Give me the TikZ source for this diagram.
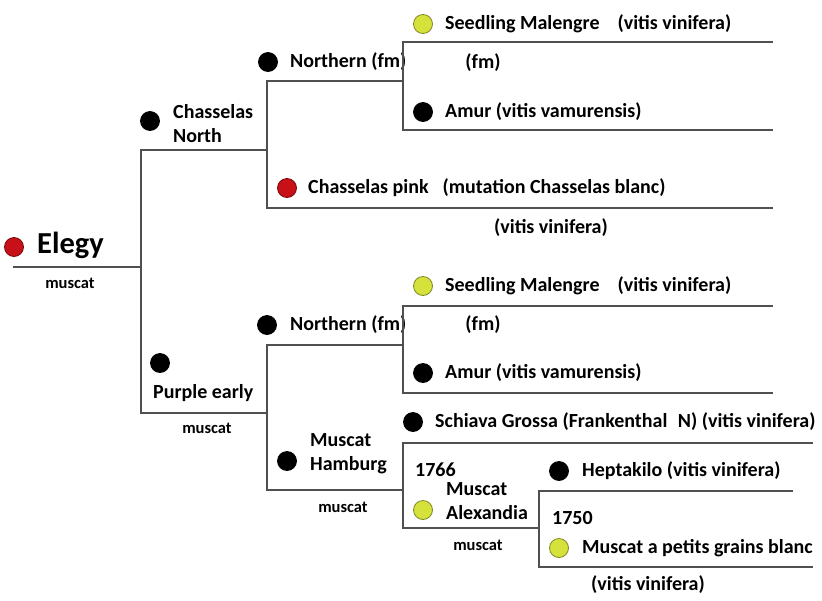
\documentclass[tikz,border=0pt]{standalone}
\usepackage{fontspec}
\setmainfont{Carlito}
\definecolor{grapered}{RGB}{200,16,24}
\definecolor{grapegreen}{RGB}{214,226,60}
\definecolor{branchgray}{RGB}{80,80,80}

\begin{document}
\begin{tikzpicture}[x=1pt, y=-1pt,
        branch/.style={branchgray, line width=1.3pt},
        dot/.style={circle, minimum size=19pt, inner sep=0pt, line width=0.8pt, fill=#1, draw=#1!60!black},
        lbl/.style={anchor=west, inner sep=0pt, align=left, font=\bfseries\fontsize{20}{24}\selectfont},
        small/.style={inner sep=0pt, font=\bfseries\fontsize{16.5}{18}\selectfont},
        paren/.style={inner sep=0pt, font=\bfseries\fontsize{20}{22}\selectfont}]
        \useasboundingbox (0,0) rectangle (822,600);

        % Elegy
        \node[dot=grapered] (elegy-dot) at (14,247) {};
        \node[lbl, font=\bfseries\fontsize{30.5}{32}\selectfont] (elegy) at (37,245) {Elegy};
        \node[small] (elegy-note) at (70,283) {muscat};
        \coordinate (elegy-end) at (13,267);
        \coordinate (elegy-fork) at (141,267);
        \draw[branch] (elegy-end) -- (elegy-fork);

        % Chasselas North
        \node[dot=black] (cn-dot) at (150,121) {};
        \node[lbl] (cn) at (173,124) {Chasselas\\North};
        \coordinate (cn-fork) at (267,150);

        % Purple early
        \node[dot=black] (pe-dot) at (160,363) {};
        \node[lbl] (pe) at (153,393) {Purple early};
        \node[small] (pe-note) at (207,428) {muscat};
        \coordinate (pe-fork) at (267,413);
        \draw[branch] (cn-fork) -| (elegy-fork) |- (pe-fork);

        % Northern (top)
        \node[dot=black] (n1-dot) at (268,62) {};
        \node[lbl] (n1) at (290,62) {Northern (fm)};
        \coordinate (n1-fork) at (403,81);

        % Chasselas pink
        \node[dot=grapered] (cp-dot) at (287,188) {};
        \node[lbl] (cp) at (308,188) {Chasselas pink\hspace{0.7em}(mutation Chasselas blanc)};
        \node[paren] (cp-note) at (551,228) {(vitis vinifera)};
        \coordinate (cp-end) at (773,208);
        \draw[branch] (n1-fork) -| (cn-fork) |- (cp-end);

        % Seedling Malengre / Amur (top)
        \node[dot=grapegreen] (sm1-dot) at (423,24) {};
        \node[lbl] (sm1) at (445,24) {Seedling Malengre\hspace{0.9em}(vitis vinifera)};
        \node[paren] (n1-note) at (483,63) {(fm)};
        \node[dot=black] (am1-dot) at (423,112) {};
        \node[lbl] (am1) at (445,112) {Amur (vitis vamurensis)};
        \coordinate (sm1-end) at (773,42);
        \coordinate (am1-end) at (773,130);
        \draw[branch] (sm1-end) -| (n1-fork) |- (am1-end);

        % Northern (bottom)
        \node[dot=black] (n2-dot) at (267,325) {};
        \node[lbl] (n2) at (290,325) {Northern (fm)};
        \coordinate (n2-fork) at (403,345);

        % Muscat Hamburg
        \node[dot=black] (mh-dot) at (287,461) {};
        \node[lbl] (mh) at (310,454) {Muscat\\Hamburg};
        \node[small] (mh-note) at (343,507) {muscat};
        \coordinate (mh-fork) at (403,490);
        \draw[branch] (n2-fork) -| (pe-fork) |- (mh-fork);

        % Seedling Malengre / Amur (bottom)
        \node[dot=grapegreen] (sm2-dot) at (423,286) {};
        \node[lbl] (sm2) at (445,286) {Seedling Malengre\hspace{0.9em}(vitis vinifera)};
        \node[paren] (n2-note) at (483,325) {(fm)};
        \node[dot=black] (am2-dot) at (423,373) {};
        \node[lbl] (am2) at (445,373) {Amur (vitis vamurensis)};
        \coordinate (sm2-end) at (773,306);
        \coordinate (am2-end) at (773,393);
        \draw[branch] (sm2-end) -| (n2-fork) |- (am2-end);

        % Schiava Grossa / Muscat Alexandria
        \node[dot=black] (sg-dot) at (413,422) {};
        \node[lbl] (sg) at (435,422) {Schiava Grossa (Frankenthal\hspace{0.3em} N) (vitis vinifera)};
        \node[paren, anchor=west] (ma-year) at (415,470) {1766};
        \node[dot=grapegreen] (ma-dot) at (423,510) {};
        \node[lbl] (ma) at (446,501) {Muscat\\Alexandia};
        \node[small] (ma-note) at (478,545) {muscat};
        \coordinate (sg-end) at (813,443);
        \coordinate (ma-fork) at (539,528);
        \draw[branch] (sg-end) -| (mh-fork) |- (ma-fork);

        % Heptakilo / Muscat a petits grains blanc
        \node[dot=black] (hk-dot) at (559,471) {};
        \node[lbl] (hk) at (582,471) {Heptakilo (vitis vinifera)};
        \node[paren, anchor=west] (mp-year) at (552,518) {1750};
        \node[dot=grapegreen] (mp-dot) at (559,548) {};
        \node[lbl] (mp) at (582,548) {Muscat a petits grains blanc};
        \node[paren] (mp-note) at (648,585) {(vitis vinifera)};
        \coordinate (hk-end) at (793,491);
        \coordinate (mp-end) at (813,567);
        \draw[branch] (hk-end) -| (ma-fork) |- (mp-end);
    \end{tikzpicture}
\end{document}
